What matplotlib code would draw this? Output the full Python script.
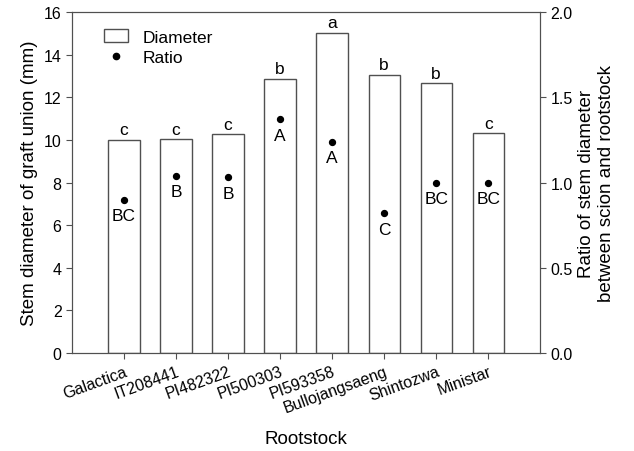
import matplotlib.pyplot as plt
from matplotlib.lines import Line2D
from matplotlib.patches import Patch

plt.rcParams['font.family'] = ['Liberation Sans', 'DejaVu Sans']

rootstocks = ["Galactica", "IT208441", "PI482322", "PI500303", "PI593358",
              "Bullojangsaeng", "Shintozwa", "Ministar"]
diameter = [10.0, 10.02, 10.26, 12.88, 15.03, 13.06, 12.65, 10.32]
diameter_letters = ["c", "c", "c", "b", "a", "b", "b", "c"]
ratio = [0.90, 1.04, 1.03, 1.37, 1.24, 0.82, 1.00, 1.00]
ratio_letters = ["BC", "B", "B", "A", "A", "C", "BC", "BC"]

edge = "#505050"

fig = plt.figure(figsize=(6.34, 4.52), dpi=100)
ax = fig.add_axes([0.1136, 0.2168, 0.7384, 0.7544])
x = list(range(1, len(rootstocks) + 1))
ax.bar(x, diameter, width=0.6, facecolor="white", edgecolor=edge, linewidth=1.0)
for xi, h, lab in zip(x, diameter, diameter_letters):
    ax.text(xi, h + 0.12, lab, ha="center", va="bottom", fontsize=12.5)

ax.set_xlim(0, 9)
ax.set_ylim(0, 16)
ax.set_yticks(range(0, 17, 2))
ax.set_xticks(x)
ax.set_xticklabels(rootstocks, rotation=20, ha="right", rotation_mode="anchor", fontsize=11.5)
ax.tick_params(colors=edge, labelcolor="black", direction="out", length=4, labelsize=11.5)
ax.set_ylabel("Stem diameter of graft union (mm)", fontsize=13.5)
ax.set_xlabel("Rootstock", fontsize=13.5)
ax.xaxis.set_label_coords(0.5, -0.225)

ax2 = ax.twinx()
ax2.set_ylim(0, 2.0)
ax2.set_yticks([0.0, 0.5, 1.0, 1.5, 2.0])
ax2.set_yticklabels(["0.0", "0.5", "1.0", "1.5", "2.0"])
ax2.tick_params(labelsize=11.5, colors=edge, labelcolor="black", direction="out", length=4)
ax2.scatter(x, ratio, s=18, color="black", zorder=3)
for xi, r, lab in zip(x, ratio, ratio_letters):
    ax2.text(xi, r - 0.05, lab, ha="center", va="top", fontsize=12.5)
ax2.set_ylabel("Ratio of stem diameter\nbetween scion and rootstock", fontsize=13.5)

for a in (ax, ax2):
    for sp in a.spines.values():
        sp.set_color(edge)

handles = [Patch(facecolor="white", edgecolor=edge, label="Diameter"),
           Line2D([], [], marker="o", linestyle="none", color="black",
                  markersize=4.5, label="Ratio")]
ax.legend(handles=handles, loc="upper left", bbox_to_anchor=(0.035, 0.995),
          frameon=False, fontsize=12.5, handlelength=1.4, handletextpad=0.8,
          labelspacing=0.3)

fig.savefig("out.png", dpi=100)
